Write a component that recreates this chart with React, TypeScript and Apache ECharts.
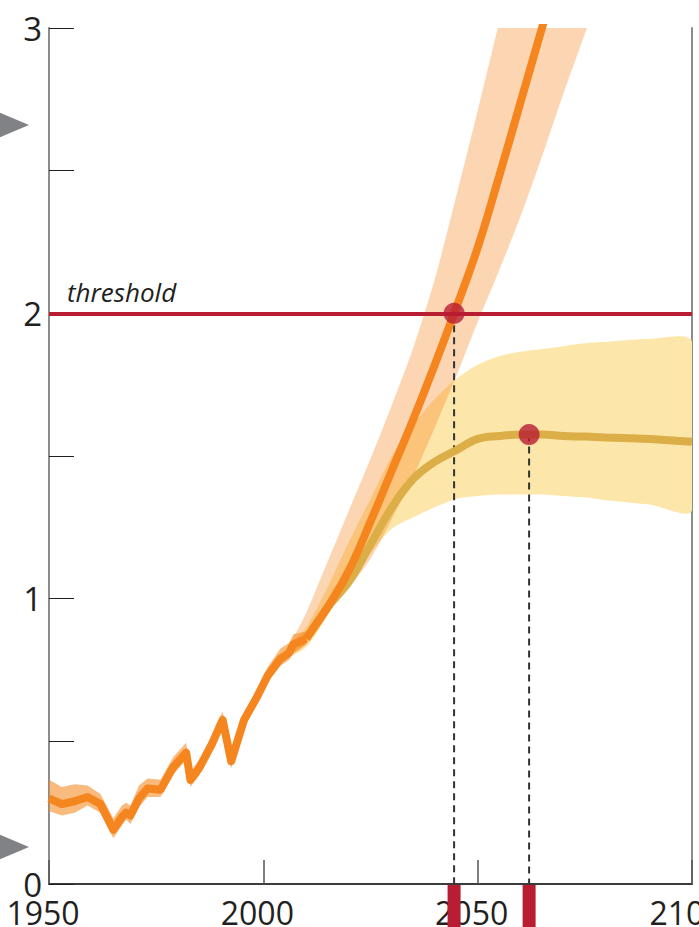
import React, { useEffect, useRef } from "react";
import * as echarts from "echarts";

// ---- data ----
const xTickLabels = [1950, 2000, 2050, 2100];
const yTickLabels = [0, 1, 2, 3];

const histYears = [1950, 1953, 1956, 1959, 1962, 1965, 1967, 1968, 1969, 1971, 1973, 1976, 1979, 1982, 1983, 1985, 1988, 1990.5, 1992.5, 1995.5, 1998.5, 2001, 2004, 2006, 2007, 2010];
const histValues = [0.30, 0.28, 0.29, 0.305, 0.28, 0.19, 0.235, 0.25, 0.24, 0.30, 0.335, 0.33, 0.41, 0.46, 0.365, 0.405, 0.49, 0.575, 0.43, 0.575, 0.655, 0.73, 0.79, 0.81, 0.84, 0.86];
const histHigh = [0.365, 0.34, 0.35, 0.345, 0.315, 0.23, 0.275, 0.285, 0.275, 0.345, 0.37, 0.365, 0.445, 0.495, 0.395, 0.435, 0.52, 0.605, 0.46, 0.6, 0.68, 0.76, 0.825, 0.845, 0.875, 0.885];
const histLow = [0.255, 0.24, 0.25, 0.275, 0.25, 0.16, 0.205, 0.225, 0.21, 0.27, 0.305, 0.305, 0.385, 0.435, 0.34, 0.38, 0.465, 0.55, 0.405, 0.55, 0.635, 0.705, 0.765, 0.785, 0.81, 0.84];

const highYears = [2010, 2015, 2020, 2025, 2030, 2035, 2040, 2045, 2050, 2055, 2060, 2065, 2070];
const highValues = [0.86, 0.97, 1.1, 1.27, 1.45, 1.63, 1.82, 2.02, 2.23, 2.48, 2.74, 3.0, 3.26];
const highBandYears = [2006, 2010, 2015, 2020, 2025, 2030, 2035, 2040, 2045, 2050, 2055, 2060, 2065, 2070, 2075, 2080];
const highBandLow = [0.80, 0.84, 0.95, 1.04, 1.14, 1.28, 1.43, 1.6, 1.78, 1.97, 2.15, 2.34, 2.55, 2.77, 2.98, 3.2];
const highBandHigh = [0.83, 0.95, 1.13, 1.31, 1.49, 1.68, 1.88, 2.12, 2.41, 2.71, 3.02, 3.33, 3.65, 3.97, 4.3, 4.6];

const lowYears = [2010, 2015, 2020, 2025, 2030, 2035, 2040, 2045, 2050, 2055, 2060, 2065, 2070, 2075, 2080, 2090, 2100];
const lowValues = [0.86, 0.97, 1.06, 1.19, 1.32, 1.42, 1.48, 1.52, 1.56, 1.57, 1.575, 1.575, 1.57, 1.568, 1.565, 1.56, 1.55];
const lowBandYears = [2006, 2010, 2015, 2020, 2025, 2030, 2035, 2040, 2045, 2050, 2055, 2060, 2065, 2070, 2075, 2080, 2090, 2100];
const lowBandLow = [0.8, 0.83, 0.94, 1.06, 1.16, 1.245, 1.285, 1.32, 1.35, 1.36, 1.365, 1.365, 1.365, 1.36, 1.355, 1.345, 1.33, 1.31];
const lowBandHigh = [0.83, 0.9, 1.04, 1.2, 1.35, 1.5, 1.61, 1.7, 1.77, 1.82, 1.85, 1.865, 1.875, 1.885, 1.895, 1.9, 1.91, 1.9];

const threshold = 2;
const thresholdLabel = "threshold";
const crossingYears = [2044.5, 2062];
const crossingValues = [2.0, 1.575];
const markerLevels = [2.66, 0.13];

// ---- styles ----
const RED = "#b81d32";
const ORANGE = "#f5861f";
const GOLD = "#dcae48";
const TEXT = "#231f20";
const FONT = "'Open Sans', 'Noto Sans', sans-serif";

function zip(xs: number[], ys: number[]) {
  return xs.map((x, i) => [x, ys[i]]);
}

function bandSeries(years: number[], lo: number[], hi: number[], fill: string, smooth: number) {
  return {
    type: "custom",
    clip: true,
    silent: true,
    data: [[years[0], lo[0]]],
    renderItem: (_p: any, api: any) => {
      const pts: number[][] = [];
      for (let i = 0; i < years.length; i++) pts.push(api.coord([years[i], hi[i]]));
      for (let i = years.length - 1; i >= 0; i--) pts.push(api.coord([years[i], lo[i]]));
      return { type: "polygon", shape: { points: pts, smooth }, style: { fill } };
    },
  };
}

export default function App() {
  const ref = useRef<HTMLDivElement>(null);

  useEffect(() => {
    if (!ref.current) return;
    const chart = echarts.init(ref.current, undefined, { renderer: "svg" });
    const option: any = {
      animation: false,
      backgroundColor: "#ffffff",
      grid: { left: 49, right: 7, top: 28, bottom: 43, containLabel: false, outerBoundsMode: "none" },
      xAxis: [
        {
          type: "value",
          min: xTickLabels[0],
          max: xTickLabels[xTickLabels.length - 1],
          interval: 50,
          position: "bottom",
          axisLine: { show: true, lineStyle: { color: TEXT, width: 1.5 } },
          axisTick: { show: true, inside: true, length: 24, lineStyle: { color: "#555", width: 1.5 } },
          axisLabel: {
            show: true,
            fontSize: 32,
            color: TEXT,
            fontFamily: FONT,
            margin: 12,
            showMinLabel: true,
            showMaxLabel: true,
            hideOverlap: false,
            padding: [0, 12, 0, 0],
            formatter: (v: number) => (xTickLabels.includes(v) ? String(v) : ""),
          },
          splitLine: { show: false },
        },
        {
          type: "value",
          min: xTickLabels[0],
          max: xTickLabels[xTickLabels.length - 1],
          position: "top",
          axisLine: { show: true, lineStyle: { color: "#333", width: 1.5 } },
          axisTick: { show: false },
          axisLabel: { show: false },
          splitLine: { show: false },
        },
      ],
      yAxis: [
        {
          type: "value",
          min: 0,
          max: 3,
          interval: 0.5,
          position: "left",
          axisLine: { show: true, lineStyle: { color: "#8c8c8c", width: 2 } },
          axisTick: { show: true, inside: true, length: 25, lineStyle: { color: TEXT, width: 1 } },
          axisLabel: {
            show: true,
            fontSize: 33,
            color: TEXT,
            fontFamily: FONT,
            margin: 7,
            padding: [0, 0, 6, 0],
            formatter: (v: number) => (yTickLabels.includes(v) ? String(v) : ""),
          },
          splitLine: { show: false },
        },
        {
          type: "value",
          min: 0,
          max: 3,
          position: "right",
          axisLine: { show: true, lineStyle: { color: "#8c8c8c", width: 2 } },
          axisTick: { show: false },
          axisLabel: { show: false },
          splitLine: { show: false },
        },
      ],
      series: [
        bandSeries(lowBandYears, lowBandLow, lowBandHigh, "#fde6a9", 0.3),
        bandSeries(highBandYears, highBandLow, highBandHigh, "rgba(245,132,31,0.34)", 0.3),
        bandSeries(histYears, histLow, histHigh, "rgba(245,140,40,0.6)", 0),
        {
          type: "line",
          data: zip(lowYears, lowValues),
          smooth: 0.4,
          showSymbol: false,
          silent: true,
          lineStyle: { color: GOLD, width: 8 },
        },
        {
          type: "line",
          data: zip(highYears, highValues),
          smooth: 0.4,
          showSymbol: false,
          silent: true,
          lineStyle: { color: ORANGE, width: 8 },
        },
        {
          type: "line",
          data: zip(histYears, histValues),
          showSymbol: false,
          silent: true,
          lineStyle: { color: ORANGE, width: 8, join: "round" },
        },
        {
          type: "line",
          data: [],
          silent: true,
          markLine: {
            silent: true,
            symbol: "none",
            lineStyle: { color: RED, width: 4, type: "solid" },
            data: [{ yAxis: threshold }],
            label: {
              show: true,
              position: "insideStartTop",
              formatter: thresholdLabel,
              fontSize: 26,
              fontStyle: "italic",
              fontFamily: FONT,
              color: TEXT,
              distance: [18, 8],
            },
          },
        },
        {
          type: "custom",
          silent: true,
          clip: false,
          data: zip(crossingYears, crossingValues),
          renderItem: (_p: any, api: any) => {
            const top = api.coord([api.value(0), api.value(1)]);
            const bot = api.coord([api.value(0), 0]);
            return {
              type: "line",
              shape: { x1: top[0], y1: top[1], x2: bot[0], y2: bot[1] },
              style: { stroke: "#333", lineWidth: 2, lineDash: [7, 5] },
            };
          },
        },
        {
          type: "custom",
          silent: true,
          clip: false,
          data: crossingYears.map((y) => [y, 0]),
          renderItem: (_p: any, api: any) => {
            const p = api.coord([api.value(0), 0]);
            return {
              type: "rect",
              shape: { x: p[0] - 6.5, y: p[1] + 1, width: 13, height: 60 },
              style: { fill: RED },
            };
          },
        },
        {
          type: "custom",
          silent: true,
          clip: false,
          data: markerLevels.map((v) => [xTickLabels[0], v]),
          renderItem: (_p: any, api: any) => {
            const p = api.coord([api.value(0), api.value(1)]);
            return {
              type: "polygon",
              shape: {
                points: [
                  [p[0] - 52, p[1] - 13.5],
                  [p[0] - 20, p[1]],
                  [p[0] - 52, p[1] + 13.5],
                ],
              },
              style: { fill: "#808285" },
            };
          },
        },
        {
          type: "scatter",
          data: zip(crossingYears, crossingValues),
          symbol: "circle",
          symbolSize: 21,
          silent: true,
          itemStyle: { color: RED },
          z: 5,
        },
      ],
    };
    chart.setOption(option);
    return () => chart.dispose();
  }, []);

  return (
    <div
      ref={ref}
      style={{ position: "fixed", left: 0, top: 0, width: 699, height: 927 }}
    />
  );
}
